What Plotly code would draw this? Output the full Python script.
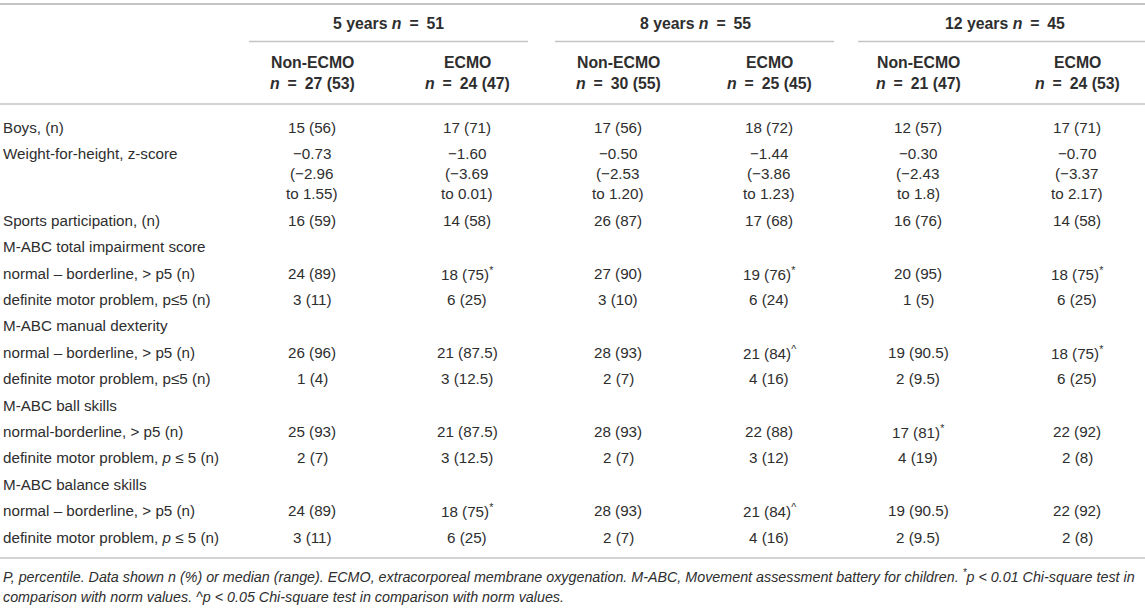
import plotly.graph_objects as go

W, H = 1145, 609

# --- table content
EQ = "\u2002=\u2002"
groups = ["5 years <i>n</i>" + EQ + "51", "8 years <i>n</i>" + EQ + "55", "12 years <i>n</i>" + EQ + "45"]
sub_names = ["Non-ECMO", "ECMO", "Non-ECMO", "ECMO", "Non-ECMO", "ECMO"]
sub_ns = ["27 (53)", "24 (47)", "30 (55)", "25 (45)", "21 (47)", "24 (53)"]

row_labels = [
    "Boys, (n)",
    "Weight-for-height, z-score",
    "Sports participation, (n)",
    "M-ABC total impairment score",
    "normal – borderline, > p5 (n)",
    "definite motor problem, p≤5 (n)",
    "M-ABC manual dexterity",
    "normal – borderline, > p5 (n)",
    "definite motor problem, p≤5 (n)",
    "M-ABC ball skills",
    "normal-borderline, > p5 (n)",
    "definite motor problem, <i>p</i> ≤ 5 (n)",
    "M-ABC balance skills",
    "normal – borderline, > p5 (n)",
    "definite motor problem, <i>p</i> ≤ 5 (n)",
]

S = "<sup>*</sup>"
C = "<sup>^</sup>"
y5_non = ["15 (56)", "−0.73|(−2.96|to 1.55)", "16 (59)", "", "24 (89)", "3 (11)", "",
          "26 (96)", "1 (4)", "", "25 (93)", "2 (7)", "", "24 (89)", "3 (11)"]
y5_ecmo = ["17 (71)", "−1.60|(−3.69|to 0.01)", "14 (58)", "", "18 (75)" + S, "6 (25)", "",
           "21 (87.5)", "3 (12.5)", "", "21 (87.5)", "3 (12.5)", "", "18 (75)" + S, "6 (25)"]
y8_non = ["17 (56)", "−0.50|(−2.53|to 1.20)", "26 (87)", "", "27 (90)", "3 (10)", "",
          "28 (93)", "2 (7)", "", "28 (93)", "2 (7)", "", "28 (93)", "2 (7)"]
y8_ecmo = ["18 (72)", "−1.44|(−3.86|to 1.23)", "17 (68)", "", "19 (76)" + S, "6 (24)", "",
           "21 (84)" + C, "4 (16)", "", "22 (88)", "3 (12)", "", "21 (84)" + C, "4 (16)"]
y12_non = ["12 (57)", "−0.30|(−2.43|to 1.8)", "16 (76)", "", "20 (95)", "1 (5)", "",
           "19 (90.5)", "2 (9.5)", "", "17 (81)" + S, "4 (19)", "", "19 (90.5)", "2 (9.5)"]
y12_ecmo = ["17 (71)", "−0.70|(−3.37|to 2.17)", "14 (58)", "", "18 (75)" + S, "6 (25)", "",
            "18 (75)" + S, "6 (25)", "", "22 (92)", "2 (8)", "", "22 (92)", "2 (8)"]
columns = [y5_non, y5_ecmo, y8_non, y8_ecmo, y12_non, y12_ecmo]

footnote = [
    "<i>P, percentile. Data shown n (%) or median (range). ECMO, extracorporeal membrane oxygenation. "
    "M-ABC, Movement assessment battery for children. <sup>*</sup>p < 0.01 Chi-square test in</i>",
    "<i>comparison with norm values. ^p < 0.05 Chi-square test in comparison with norm values.</i>",
]

# --- layout constants (pixels)
col_x = [312, 467, 618, 769, 918, 1077]
group_span = [(249, 528), (555, 834), (858, 1145)]
group_x = [388, 695, 1005]
row_gap, line_gap = 26.4, 20.2
top_body = 127
font = "Liberation Sans, Arial, sans-serif"
txt = "#2e2e2e"
rule = "#c4c4c4"
fs = 15.2
fs_head = 15.8
fs_foot = 14.3

ann = []
shapes = []


def add_text(x, y, s, size=fs, anchor="center", bold=False):
    ann.append(dict(x=x, y=y, xref="x", yref="y", text=("<b>%s</b>" % s) if bold else s,
                    showarrow=False, xanchor=anchor, yanchor="middle",
                    font=dict(family=font, size=size, color=txt)))


def hline(x0, x1, y, w=1.6):
    shapes.append(dict(type="line", xref="x", yref="y", x0=x0, x1=x1, y0=y, y1=y,
                       line=dict(color=rule, width=w)))


# header
hline(0, W, 4, 2)
for g, gx, (a, b) in zip(groups, group_x, group_span):
    add_text(gx, 23, g, size=fs_head, bold=True)
    hline(a, b, 41.5)
for x, nm, n in zip(col_x, sub_names, sub_ns):
    add_text(x, 62, nm, size=fs_head, bold=True)
    add_text(x, 83, "<i>n</i>" + EQ + n, size=fs_head, bold=True)
hline(0, W, 104)

# body
y = top_body
for i, lab in enumerate(row_labels):
    add_text(1, y, lab, anchor="left")
    nlines = 1
    for x, col in zip(col_x, columns):
        parts = col[i].split("|") if col[i] else []
        nlines = max(nlines, len(parts))
        for k, p in enumerate(parts):
            add_text(x, y + k * line_gap, p)
    y += (nlines - 1) * line_gap + row_gap

last_row = y - row_gap
hline(0, W, last_row + 21)
add_text(1, last_row + 39, footnote[0], size=fs_foot, anchor="left")
add_text(1, last_row + 60, footnote[1], size=fs_foot, anchor="left")

fig = go.Figure()
fig.update_layout(
    width=W, height=H, margin=dict(l=0, r=0, t=0, b=0),
    paper_bgcolor="white", plot_bgcolor="white",
    xaxis=dict(range=[0, W], visible=False, fixedrange=True),
    yaxis=dict(range=[H, 0], visible=False, fixedrange=True),
    annotations=ann, shapes=shapes, showlegend=False,
)
fig.write_html("out.html", config={"displayModeBar": False},
               post_script="document.body.style.margin='0';document.body.style.overflow='hidden';")
